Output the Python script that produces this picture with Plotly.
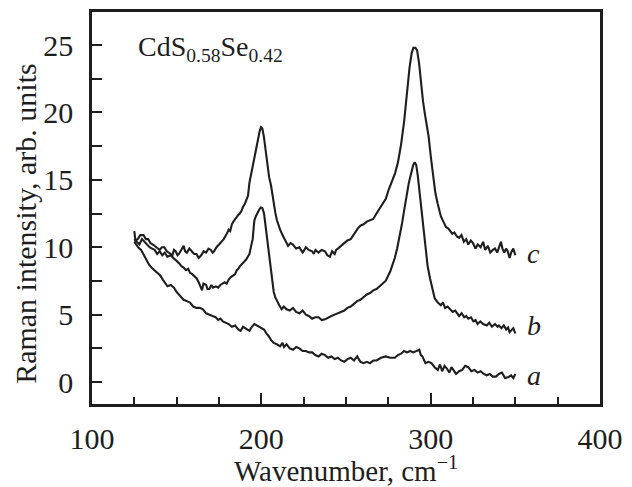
import plotly.graph_objects as go

# ---- data ----
x_c = [125.0,125.6,127.0,128.5,130.4,131.8,133.2,134.6,136.0,137.0,138.5,139.9,141.3,142.7,144.2,145.6,147.5,148.4,149.4,150.5,
       151.3,152.7,154.1,155.0,156.0,157.5,158.9,160.3,161.7,163.0,164.5,166.0,167.4,168.8,170.2,171.2,172.1,173.5,175.0,176.4,
       177.8,179.2,180.7,181.6,182.6,183.5,184.5,185.5,186.4,187.3,188.3,189.2,190.2,191.1,192.1,193.0,194.2,195.5,196.8,198.0,
       199.0,199.8,200.6,201.5,202.5,203.5,204.6,205.7,206.5,207.3,208.2,209.2,210.2,211.1,212.5,213.9,214.8,215.8,217.2,218.7,
       220.5,222.5,223.4,224.4,225.4,226.3,228.0,230.0,231.0,232.0,233.8,235.6,237.6,239.0,240.5,241.8,243.3,244.2,245.2,247.0,
       249.0,250.8,252.8,254.2,255.7,257.0,258.5,260.4,262.3,264.2,266.1,268.0,270.0,272.0,273.5,275.3,277.0,279.0,280.7,282.5,
       284.3,286.1,287.5,288.8,289.8,291.0,292.0,293.2,294.3,295.5,296.7,298.0,298.8,300.2,301.5,302.8,304.2,306.0,307.5,309.0,
       310.3,311.3,312.8,314.0,315.5,316.8,318.2,319.6,321.0,322.2,323.7,325.0,326.5,327.8,329.5,331.0,332.2,333.8,335.2,336.7,
       338.0,339.3,340.5,341.5,342.4,343.5,344.5,345.5,346.6,347.5,348.8,350.0]
y_c = [11.2,10.5,10.6,10.9,10.9,10.6,10.6,10.3,10.2,10.1,9.9,9.8,10.0,10.0,9.7,9.6,9.4,9.8,9.7,9.4,
       9.5,9.8,10.1,9.7,9.6,9.9,9.7,9.5,9.5,9.2,9.4,9.7,9.6,9.9,9.8,9.6,9.7,10.0,10.2,10.4,
       10.6,10.9,11.3,11.2,11.7,11.9,12.1,12.3,12.4,12.5,12.7,13.0,13.2,13.5,13.8,14.8,15.6,16.4,17.2,18.0,
       18.6,18.9,18.8,18.2,17.2,16.1,15.2,14.6,13.9,13.5,12.6,12.0,11.6,11.3,10.9,10.6,10.4,10.1,10.3,10.2,
       9.9,10.0,9.8,9.6,9.8,10.0,9.8,9.7,9.5,9.8,9.6,9.8,9.7,9.4,9.3,9.7,9.5,9.8,9.9,10.1,
       10.3,10.5,10.6,10.9,11.2,11.4,11.6,11.7,11.9,12.0,12.1,12.5,12.9,13.3,13.6,14.3,14.9,15.5,16.3,17.6,
       19.3,21.8,23.3,24.4,24.8,24.8,24.6,23.6,22.0,20.8,19.8,18.8,18.2,16.6,15.2,14.0,13.2,12.3,11.9,11.5,
       11.4,11.2,11.0,11.1,10.8,10.7,10.9,10.4,10.6,10.2,10.5,10.3,9.9,10.2,10.0,10.4,9.8,10.1,9.6,9.8,
       9.9,9.6,10.0,10.4,9.9,9.6,9.9,9.7,9.2,9.6,9.9,9.4]

x_b = [125.0,126.5,128.0,129.5,131.0,132.5,134.0,135.5,137.0,138.5,140.0,141.5,143.0,144.5,146.5,148.0,149.4,150.3,151.5,152.8,
       154.1,155.5,156.8,157.9,159.2,160.5,161.7,163.0,164.0,165.0,165.8,167.4,168.2,169.3,170.5,171.5,173.1,174.5,175.8,176.9,
       178.3,179.5,180.7,182.2,183.5,184.5,185.5,186.4,187.4,188.3,189.7,191.1,192.2,193.0,194.0,194.9,195.5,195.9,196.8,197.8,
       198.8,199.7,200.6,201.6,202.5,203.5,204.4,205.4,206.3,207.3,208.2,209.2,210.6,212.0,213.3,214.9,216.8,218.7,220.5,222.5,
       224.4,226.3,228.0,230.0,231.8,233.8,235.7,237.6,239.5,241.4,243.3,245.2,247.0,249.0,250.8,252.8,254.7,256.6,258.5,260.4,
       262.3,264.2,266.1,268.0,270.5,273.4,276.1,278.8,280.2,281.6,283.0,284.3,285.2,286.1,287.0,287.9,288.8,289.7,290.6,291.5,
       292.4,293.3,294.2,295.1,296.0,296.9,298.2,299.6,301.0,302.4,304.2,306.0,307.3,308.5,310.0,311.4,313.0,314.5,316.8,318.3,
       319.8,321.0,322.2,323.8,325.2,326.5,327.7,329.3,331.0,333.1,334.6,336.2,338.0,339.5,340.3,341.8,343.2,344.6,345.7,346.6,
       347.5,348.8,350.0]
y_b = [10.6,10.4,10.2,10.6,10.4,10.2,10.0,9.9,9.8,9.5,9.7,9.4,9.6,9.3,9.4,9.2,9.0,8.95,8.8,8.6,
       8.5,8.3,8.4,8.1,8.0,7.8,7.7,7.4,7.1,6.8,7.3,7.2,6.9,6.9,7.2,7.0,7.1,7.0,7.2,7.3,
       7.4,7.3,7.6,7.8,7.9,8.0,8.3,8.4,8.6,8.7,8.9,9.1,9.4,9.5,10.1,10.6,11.5,12.0,12.3,12.6,
       12.8,12.95,12.9,12.5,11.6,10.6,9.5,8.6,7.6,6.7,6.3,6.0,5.7,5.4,5.6,5.4,5.3,5.5,5.2,5.1,
       5.3,5.0,4.9,4.7,4.8,4.8,4.6,4.65,4.8,4.9,5.0,5.1,5.2,5.3,5.5,5.6,5.8,6.0,6.1,6.3,
       6.5,6.6,6.8,6.9,7.2,7.5,8.2,9.2,9.9,10.7,11.7,12.7,13.5,14.2,14.7,15.2,15.7,16.1,16.3,16.1,
       15.3,14.2,13.2,12.2,11.0,9.7,8.6,7.7,6.9,6.2,5.9,5.7,5.9,5.5,5.6,5.4,5.2,5.3,4.9,5.1,
       4.8,4.9,4.7,4.8,4.5,4.6,4.3,4.5,4.3,4.2,4.4,4.1,4.3,4.1,4.2,4.0,4.2,3.9,4.05,3.7,
       3.8,4.0,3.6]

x_a = [125.0,126.0,127.5,129.0,130.4,131.3,132.3,133.7,135.1,137.0,138.9,140.3,141.8,143.2,144.6,146.5,148.4,149.8,151.3,152.7,
       154.1,156.0,157.9,159.8,161.7,163.6,165.5,167.4,169.3,171.2,173.1,174.5,175.9,177.3,178.8,180.7,182.6,184.5,186.4,187.8,
       189.2,190.2,191.6,193.0,194.4,195.9,197.3,198.7,200.1,201.6,203.0,204.4,205.8,207.3,209.2,211.1,212.5,213.4,214.9,216.8,
       218.7,220.6,222.5,224.4,226.3,228.2,230.0,231.9,233.8,235.7,237.6,239.5,241.4,243.3,245.2,247.1,249.0,250.9,252.8,254.7,
       256.6,258.5,260.4,262.3,264.2,266.1,268.0,270.7,273.4,276.1,278.8,280.6,282.5,284.3,286.1,288.0,289.7,291.5,293.3,294.2,
       295.1,296.9,298.7,300.5,302.3,304.2,305.5,306.8,308.2,309.6,311.0,312.3,313.7,315.0,316.8,318.6,320.4,322.2,324.0,325.9,
       327.7,329.5,331.3,333.1,334.9,336.7,338.5,340.3,342.1,343.9,345.7,347.5,348.8,350.0]
y_a = [10.4,10.2,9.96,9.8,9.5,9.2,9.0,8.7,8.5,8.3,8.1,7.9,7.6,7.3,7.1,7.2,7.0,6.7,6.5,6.3,
       6.1,6.0,5.9,5.6,5.5,5.5,5.4,5.1,5.0,4.9,4.8,4.6,4.7,4.5,4.4,4.3,4.1,4.2,3.9,3.8,
       4.1,4.0,3.9,3.8,4.1,4.3,4.2,4.1,4.0,3.9,3.6,3.4,3.1,2.9,2.8,2.65,2.9,2.6,2.8,2.5,
       2.4,2.6,2.5,2.3,2.3,2.2,2.2,2.0,1.9,2.1,2.0,1.8,1.9,1.7,1.8,1.6,1.5,1.7,1.8,1.6,
       1.9,1.5,1.4,1.5,1.4,1.6,1.6,1.8,1.9,1.8,1.8,2.0,2.1,2.3,2.2,2.3,2.2,2.3,2.4,2.0,
       1.9,1.4,1.5,1.4,1.1,0.9,1.3,0.8,1.2,1.0,0.7,1.1,0.8,0.6,0.8,0.9,1.2,1.1,0.8,0.9,
       0.7,0.8,0.6,0.5,0.6,0.4,0.4,0.6,0.7,0.3,0.35,0.5,0.3,0.6]

curve_labels = ["a", "b", "c"]
label_x = [361, 361, 361]
label_y = [0.5, 4.2, 9.5]

x_ticks = [100, 200, 300, 400]
y_ticks = [0, 5, 10, 15, 20, 25]

FONT = "Liberation Serif"
INK = "#1e1e1e"
FS = 30

fig = go.Figure()
for xs, ys in [(x_a, y_a), (x_b, y_b), (x_c, y_c)]:
    fig.add_trace(go.Scatter(x=xs, y=ys, mode="lines",
                             line=dict(color=INK, width=2.1), showlegend=False,
                             hoverinfo="skip"))

for lab, lx, ly in zip(curve_labels, label_x, label_y):
    fig.add_annotation(x=lx, y=ly, text="<i>%s</i>" % lab, showarrow=False,
                       xanchor="center", yanchor="middle",
                       font=dict(family=FONT, size=28, color=INK))

fig.add_annotation(x=126.0, y=24.75, text="CdS<sub>0.58</sub>Se<sub>0.42</sub>",
                   showarrow=False, xanchor="left", yanchor="middle",
                   font=dict(family=FONT, size=28, color=INK))

# axis titles placed as paper annotations
fig.add_annotation(x=0.5, y=-0.166, xref="paper", yref="paper",
                   text="Wavenumber, cm<sup>−1</sup>", showarrow=False,
                   xanchor="center", yanchor="middle",
                   font=dict(family=FONT, size=29, color=INK))
fig.add_annotation(x=-0.13, y=0.462, xref="paper", yref="paper",
                   text="Raman intensity, arb. units", showarrow=False, textangle=-90,
                   xanchor="center", yanchor="middle",
                   font=dict(family=FONT, size=FS, color=INK))

fig.update_layout(
    width=632, height=487,
    margin=dict(l=84, r=40, t=4, b=91),
    paper_bgcolor="white", plot_bgcolor="white",
    font=dict(family=FONT, size=FS, color=INK),
    xaxis=dict(range=[100, 400], tickvals=x_ticks, ticks="inside", ticklen=11,
               tickwidth=1.5, tickcolor=INK, automargin=False,
               minor=dict(dtick=25, tick0=100, ticks="inside", ticklen=7, tickwidth=1.5, tickcolor=INK, showgrid=False),
               showline=True, linewidth=2.5, linecolor=INK, mirror=True,
               showgrid=False, zeroline=False,
               tickfont=dict(family=FONT, size=FS, color=INK),
               ticklabelstandoff=6),
    yaxis=dict(range=[-1.63, 27.45], tickvals=y_ticks, ticks="inside", ticklen=10,
               tickwidth=1.5, tickcolor=INK, automargin=False,
               minor=dict(dtick=2.5, tick0=0, ticks="inside", ticklen=10, tickwidth=1.5, tickcolor=INK, showgrid=False),
               showline=True, linewidth=2.5, linecolor=INK, mirror=True,
               showgrid=False, zeroline=False,
               tickfont=dict(family=FONT, size=FS, color=INK),
               ticklabelstandoff=10),
)

fig.write_html("out.html")
